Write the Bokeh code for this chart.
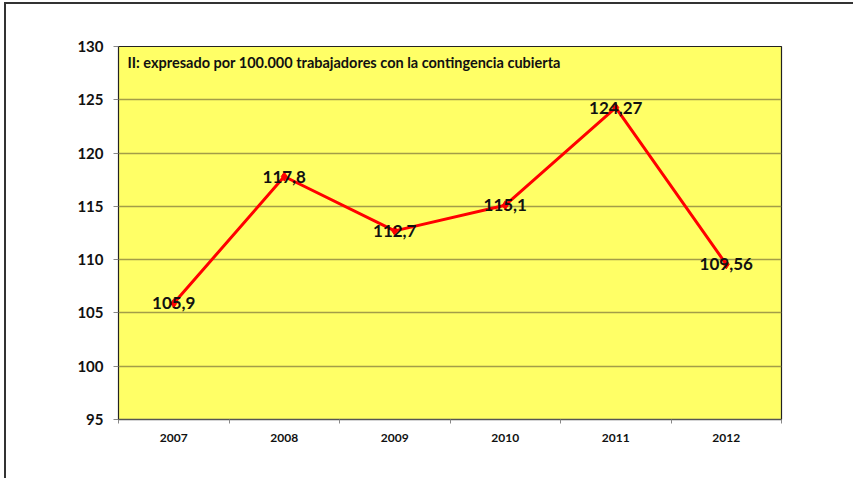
from bokeh.plotting import figure
from bokeh.models import ColumnDataSource, Range1d, FixedTicker, Label, LabelSet
from bokeh.core.properties import value
from bokeh.embed import file_html
from bokeh.resources import INLINE

years = ["2007", "2008", "2009", "2010", "2011", "2012"]
values = [105.9, 117.8, 112.7, 115.1, 124.27, 109.56]
value_labels = ["105,9", "117,8", "112,7", "115,1", "124,27", "109,56"]
y_ticks = [95, 100, 105, 110, 115, 120, 125, 130]
title_text = "II: expresado por 100.000 trabajadores con la contingencia cubierta"

FONT = "Lato"
xs = [i + 0.5 for i in range(len(years))]
src = ColumnDataSource(dict(x=xs, y=values, lab=value_labels))

W, H = 849, 476
p = figure(width=W, height=H, output_backend="svg", toolbar_location=None,
           x_range=Range1d(0, len(years)), y_range=Range1d(95, 130),
           min_border_left=112, min_border_right=74, min_border_top=42, min_border_bottom=61)
p.background_fill_color = "#ffff66"
p.border_fill_color = "white"
p.outline_line_color = "#222222"
p.outline_line_width = 1.2
p.styles = {"border-top": "2px solid #333333", "border-left": "2px solid #333333",
            "margin-left": "4px", "margin-top": "2px"}

# grid
p.xgrid.visible = False
p.ygrid.ticker = FixedTicker(ticks=y_ticks)
p.ygrid.grid_line_color = "#a39d48"
p.ygrid.grid_line_width = 1.5

# y axis
p.yaxis.ticker = FixedTicker(ticks=y_ticks)
p.yaxis.major_label_text_font = FONT
p.yaxis.major_label_text_font_style = "bold"
p.yaxis.major_label_text_font_size = "15px"
p.yaxis.major_label_text_color = "#111111"
p.yaxis.major_tick_out = 5
p.yaxis.major_tick_in = 0
p.yaxis.minor_tick_out = 0
p.yaxis.minor_tick_in = 0
p.yaxis.major_tick_line_color = "#888888"
p.yaxis.axis_line_color = "#222222"
p.yaxis.major_label_standoff = 10

# x axis
p.xaxis.ticker = FixedTicker(ticks=xs, minor_ticks=list(range(len(years) + 1)))
p.xaxis.major_label_overrides = {x: y for x, y in zip(xs, years)}
p.xaxis.major_label_text_font = FONT
p.xaxis.major_label_text_font_style = "bold"
p.xaxis.major_label_text_font_size = "12px"
p.xaxis.major_label_text_color = "#111111"
p.xaxis.major_tick_out = 0
p.xaxis.major_tick_in = 0
p.xaxis.minor_tick_out = 4
p.xaxis.minor_tick_in = 0
p.xaxis.minor_tick_line_color = "#888888"
p.xaxis.axis_line_color = "#555555"
p.xaxis.axis_line_width = 1.5
p.xaxis.major_label_standoff = 10

# data
p.line("x", "y", source=src, line_color="#ff0000", line_width=3)
p.scatter("x", "y", source=src, marker="diamond", size=9, fill_color="#ff0000", line_color="#ff0000")
p.add_layout(LabelSet(x="x", y="y", text="lab", source=src, text_align="center",
                      text_baseline="middle", text_font=value(FONT), text_font_style="bold",
                      text_font_size="17px", text_color="#111111"))

p.add_layout(Label(x=0, y=130, x_offset=9, y_offset=-16, text=title_text,
                   text_baseline="middle", text_font=FONT, text_font_style="bold",
                   text_font_size="14.5px", text_color="#111111"))

open("out.html", "w").write(file_html(p, INLINE))
